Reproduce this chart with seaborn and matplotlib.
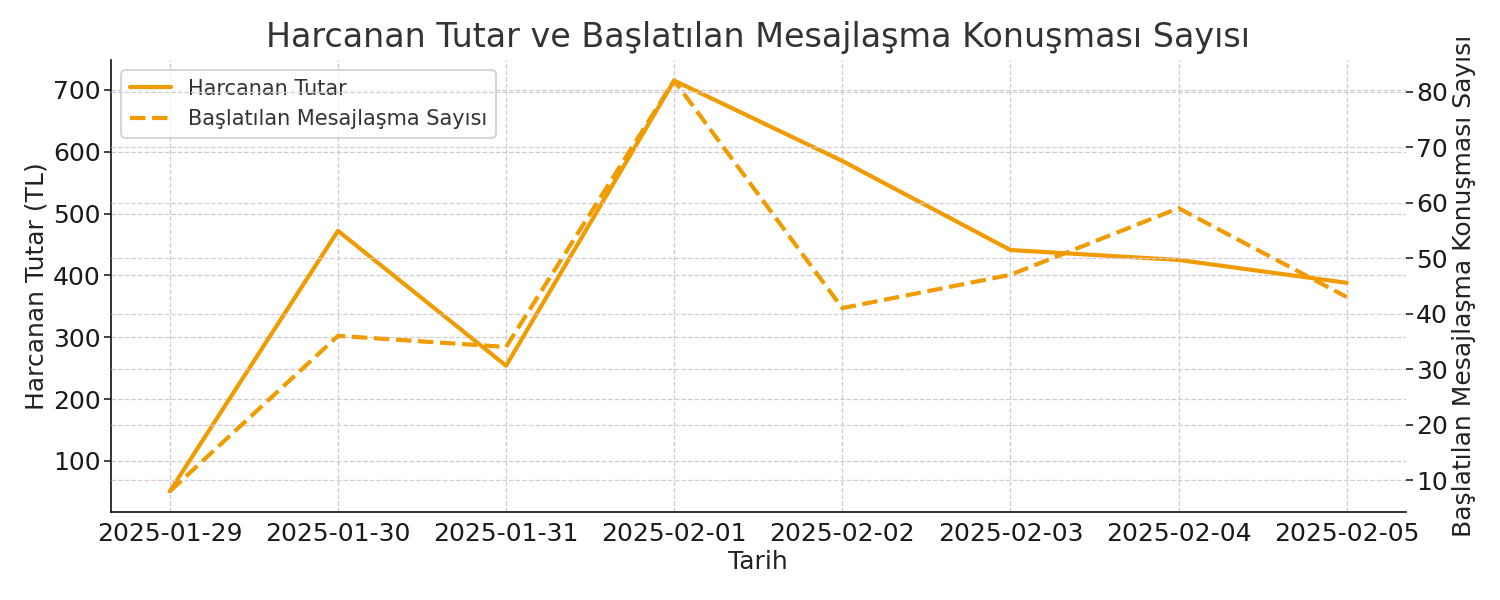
import pandas as pd
import numpy as np
import seaborn as sns
import matplotlib.pyplot as plt
from matplotlib.ticker import MultipleLocator

# data
tarih = ["2025-01-29", "2025-01-30", "2025-01-31", "2025-02-01",
         "2025-02-02", "2025-02-03", "2025-02-04", "2025-02-05"]
harcanan = [51, 472, 254, 715, 585, 441, 425, 388]
mesaj = [8, 36, 34, 82, 41, 47, 59, 43]

df = pd.DataFrame({"Tarih": pd.to_datetime(tarih), "Harcanan": harcanan, "Mesaj": mesaj})

sns.set_style("white")
plt.rcParams['font.family'] = ['DejaVu Sans']
renk = "#f09c00"

fig, ax = plt.subplots(figsize=(10, 4), dpi=150)
ax2 = ax.twinx()

sns.lineplot(x="Tarih", y="Harcanan", data=df, ax=ax, color=renk, linewidth=2, label="Harcanan Tutar", legend=False)
sns.lineplot(x="Tarih", y="Mesaj", data=df, ax=ax2, color=renk, linewidth=2, linestyle="--",
             label="Başlatılan Mesajlaşma Sayısı", legend=False)

ax.set_xticks(df["Tarih"])
ax.set_xticklabels(tarih)
ax.yaxis.set_major_locator(MultipleLocator(100))
ax2.yaxis.set_major_locator(MultipleLocator(10))
ax.set_xlabel("Tarih", fontsize=12, color="#222222", labelpad=2)
ax.set_ylabel("Harcanan Tutar (TL)", fontsize=12, color="#222222", labelpad=2)
ax2.set_ylabel("Başlatılan Mesajlaşma Konuşması Sayısı", fontsize=12, color="#222222", labelpad=2)
ax.set_title("Harcanan Tutar ve Başlatılan Mesajlaşma Konuşması Sayısı", fontsize=16, color="#333333")

for a in (ax, ax2):
    a.tick_params(axis="both", labelsize=12, length=3.5, pad=1.5, color="#222222", labelcolor="#1a1a1a")
    a.grid(True, linestyle="--", linewidth=0.6, color="#cccccc")
ax2.grid(True, linestyle="--", linewidth=0.6, color="#d9c9d9")
ax2.xaxis.grid(False)

ax.spines["top"].set_visible(False)
ax.spines["right"].set_visible(False)
ax.spines["left"].set_color("#111111")
ax.spines["bottom"].set_color("#111111")
for s in ax2.spines.values():
    s.set_visible(False)

h1, l1 = ax.get_legend_handles_labels()
h2, l2 = ax2.get_legend_handles_labels()
leg = ax.legend(h1 + h2, l1 + l2, loc="upper left", fontsize=10)
for t in leg.get_texts():
    t.set_color("#333333")

fig.subplots_adjust(left=0.074, right=0.937, bottom=0.147, top=0.9)
fig.savefig("out.png")
